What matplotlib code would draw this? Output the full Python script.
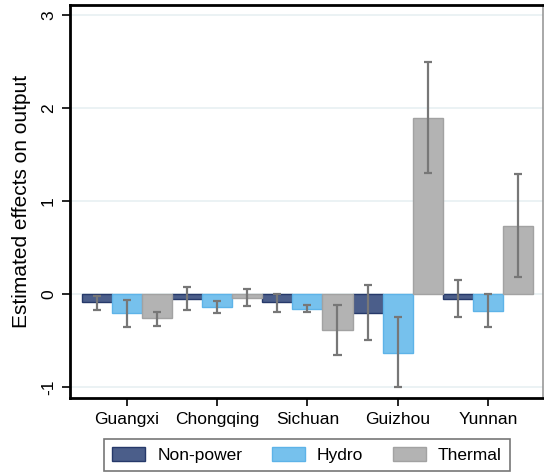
import numpy as np
import matplotlib.pyplot as plt
from matplotlib.patches import Patch

plt.rcParams['font.family'] = ['Liberation Sans', 'DejaVu Sans']

provinces = ['Guangxi', 'Chongqing', 'Sichuan', 'Guizhou', 'Yunnan']
series = ['Non-power', 'Hydro', 'Thermal']

# point estimates
non_power = [-0.09, -0.05, -0.09, -0.20, -0.05]
hydro = [-0.20, -0.14, -0.16, -0.63, -0.18]
thermal = [-0.26, -0.04, -0.39, 1.89, 0.73]

# confidence intervals (lower, upper)
non_power_lo = [-0.17, -0.17, -0.19, -0.49, -0.25]
non_power_hi = [-0.02, 0.07, 0.00, 0.10, 0.15]
hydro_lo = [-0.35, -0.20, -0.19, -1.00, -0.35]
hydro_hi = [-0.06, -0.07, -0.12, -0.25, 0.00]
thermal_lo = [-0.34, -0.13, -0.66, 1.30, 0.18]
thermal_hi = [-0.19, 0.05, -0.12, 2.49, 1.29]

values = [non_power, hydro, thermal]
lows = [non_power_lo, hydro_lo, thermal_lo]
highs = [non_power_hi, hydro_hi, thermal_hi]

face_colors = ['#4b5e8a', '#76c1ed', '#b3b3b3']
edge_colors = ['#26396a', '#5db3e8', '#a2a2a2']

fig = plt.figure(figsize=(5.44, 4.75), dpi=100)
ax = fig.add_axes([70 / 544, 77 / 475, 473 / 544, 393 / 475])

x = np.arange(len(provinces))
width = 1 / 3

for i, name in enumerate(series):
    pos = x + (i - 1) * width
    ax.bar(pos, values[i], width=width, color=face_colors[i],
           edgecolor=edge_colors[i], linewidth=1, zorder=2)
    lo = np.array(lows[i])
    hi = np.array(highs[i])
    ax.vlines(pos, lo, hi, color='#777777', linewidth=1.6, zorder=3)
    ax.hlines(lo, pos - 0.045, pos + 0.045, color='#777777', linewidth=1.6, zorder=3)
    ax.hlines(hi, pos - 0.045, pos + 0.045, color='#777777', linewidth=1.6, zorder=3)

ax.set_xlim(-0.63, 4.61)
ax.set_ylim(-1.118, 3.107)
ax.set_yticks([-1, 0, 1, 2, 3])
ax.set_yticklabels(['-1', '0', '1', '2', '3'], rotation=90, va='center')
ax.set_xticks(x)
ax.set_xticklabels(provinces)
ax.tick_params(axis='both', labelsize=12.5, length=6, width=1.2, color='black', pad=4)
ax.yaxis.grid(True, color='#e8f0f2', linewidth=1.2, zorder=0)
ax.set_axisbelow(True)

ax.set_ylabel('Estimated effects on output', fontsize=15, labelpad=7)

for side in ['left', 'bottom', 'top']:
    ax.spines[side].set_linewidth(2)
    ax.spines[side].set_color('black')
ax.spines['right'].set_linewidth(1.2)
ax.spines['right'].set_color('#999999')

handles = [Patch(facecolor=face_colors[i], edgecolor=edge_colors[i], label=series[i])
           for i in range(3)]
leg = fig.legend(handles=handles, loc='center', bbox_to_anchor=(307 / 544, 1 - 455 / 475),
                 ncol=3, fontsize=12.5, frameon=True, fancybox=False,
                 handlelength=1.9, handleheight=0.9, columnspacing=1.7,
                 borderpad=0.45, handletextpad=0.7, borderaxespad=0)
leg.get_frame().set_edgecolor('#555555')
leg.get_frame().set_linewidth(1.2)

fig.savefig('out.png', dpi=100)
